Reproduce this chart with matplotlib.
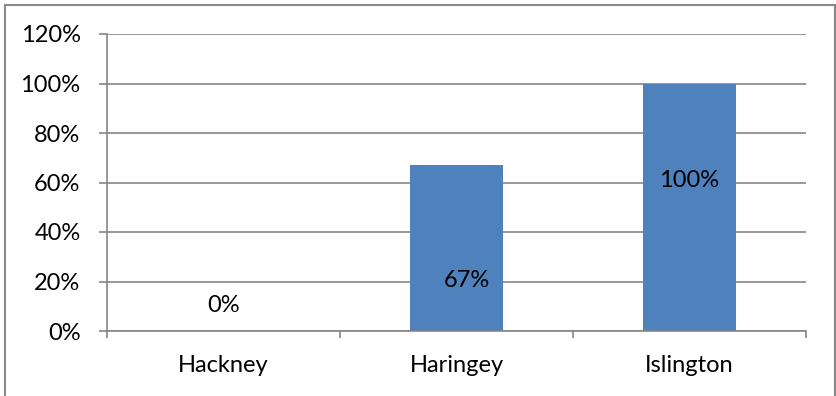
import matplotlib.pyplot as plt
from matplotlib.patches import Rectangle
from matplotlib.ticker import FixedLocator

boroughs = ['Hackney', 'Haringey', 'Islington']
shares = [0, 67, 100]
yticks = [0, 20, 40, 60, 80, 100, 120]

# where each value label sits (data units) and a small horizontal nudge
label_y = [10.5, 20.5, 61]
label_dx = [0, 0.045, 0]

bar_col = '#4F81BD'
grey = '#868686'
fs = 17

plt.rcParams['font.family'] = ['Lato', 'DejaVu Sans']

fig = plt.figure(figsize=(8.37, 3.96), dpi=100)
ax = fig.add_axes([107 / 837, 65 / 396, 699 / 837, 297 / 396])

x = list(range(len(boroughs)))
ax.bar(x, shares, width=0.4, color=bar_col, zorder=3)

for i, v in enumerate(shares):
    ax.text(x[i] + label_dx[i], label_y[i], '%d%%' % v, ha='center', va='center',
            fontsize=fs, color='black', zorder=4)

ax.set_xlim(-0.5, len(boroughs) - 0.5)
ax.set_ylim(0, 120)
ax.set_yticks(yticks)
ax.set_yticklabels(['%d%%' % t for t in yticks])
ax.set_xticks(x)
ax.set_xticklabels(boroughs)
ax.xaxis.set_minor_locator(FixedLocator([i - 0.5 for i in range(len(boroughs) + 1)]))

ax.tick_params(axis='y', length=6, width=1.2, color=grey, pad=13, labelsize=fs)
ax.tick_params(axis='x', which='major', length=0, pad=17, labelsize=fs)
ax.tick_params(axis='x', which='minor', length=5, width=1.2, color=grey)

ax.yaxis.grid(True, color=grey, linewidth=1.2, zorder=0)
ax.set_axisbelow(True)
for s in ['top', 'right']:
    ax.spines[s].set_visible(False)
for s in ['left', 'bottom']:
    ax.spines[s].set_color(grey)
    ax.spines[s].set_linewidth(1.2)
    ax.spines[s].set_zorder(5)

# outer chart frame
fig.patches.append(Rectangle((5 / 837, -0.02), 830 / 837, 391 / 396 + 0.02,
                             transform=fig.transFigure, fill=False,
                             edgecolor='#898989', linewidth=1.5))

fig.savefig('out.png', dpi=100)
